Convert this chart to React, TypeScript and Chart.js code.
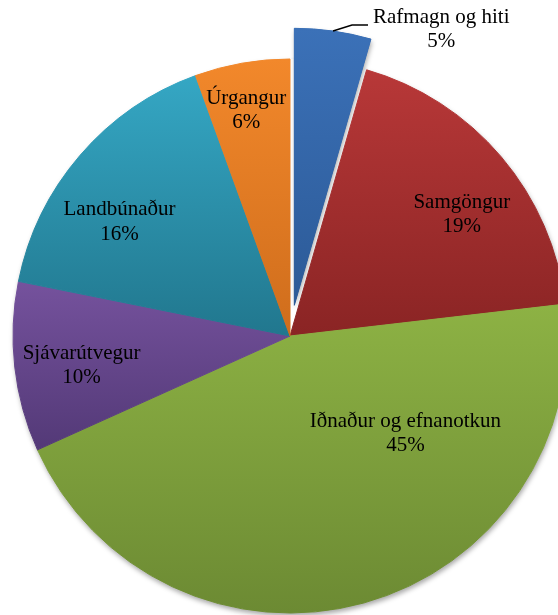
import React, { useEffect, useRef } from "react";
import { Chart, registerables } from "chart.js";

Chart.register(...registerables);

const categories = [
  "Rafmagn og hiti",
  "Samgöngur",
  "Iðnaður og efnanotkun",
  "Sjávarútvegur",
  "Landbúnaður",
  "Úrgangur",
];
const values = [4.46, 18.7, 45.1, 9.9, 16.3, 5.54];
const percentLabels = ["5%", "19%", "45%", "10%", "16%", "6%"];
const topColors = ["#3B71B8", "#B83838", "#8DB244", "#75529D", "#35A7C4", "#F2882B"];
const bottomColors = ["#2C5A97", "#8A2424", "#6C8A33", "#533977", "#21778E", "#CF6D1C"];
const explode = [31, 0, 0, 0, 0, 0];
const labelRadius = [1, 0.76, 0.545, 0.76, 0.74, 0.83];
const labelShiftDeg = [0, 5, -34.4, -1.6, -7, -1];

const R = 277;
const FONT = "21px 'Liberation Serif', 'Times New Roman', serif";
const LINE = 24.5;

function sliceGradient(c: any) {
  const i = c.dataIndex;
  if (i === undefined || i === null) return topColors[0];
  const chart = c.chart;
  const area = chart.chartArea;
  if (!area) return topColors[i];
  const total = values.reduce((a, b) => a + b, 0);
  let start = 0;
  for (let k = 0; k < i; k++) start += (values[k] / total) * 2 * Math.PI;
  const end = start + (values[i] / total) * 2 * Math.PI;
  const mid = (start + end) / 2;
  const cy = (area.top + area.bottom) / 2 - explode[i] * Math.cos(mid);
  const ys = [cy, cy - R * Math.cos(start), cy - R * Math.cos(end)];
  if (start <= 0.0001) ys.push(cy - R);
  if (start <= Math.PI && end >= Math.PI) ys.push(cy + R);
  const y0 = Math.min(...ys);
  const y1 = Math.max(...ys);
  const g = chart.ctx.createLinearGradient(0, y0, 0, y1);
  g.addColorStop(0, topColors[i]);
  g.addColorStop(1, bottomColors[i]);
  return g;
}

const explodePlugin = {
  id: "explodeSlices",
  afterUpdate(chart: any) {
    const meta = chart.getDatasetMeta(0);
    meta.data.forEach((el: any, i: number) => {
      const d = explode[i] || 0;
      if (!d) return;
      const mid = (el.startAngle + el.endAngle) / 2;
      el.x += Math.cos(mid) * d;
      el.y += Math.sin(mid) * d;
    });
  },
};

const shadowPlugin = {
  id: "pieShadow",
  beforeDatasetsDraw(chart: any) {
    const ctx = chart.ctx;
    const area = chart.chartArea;
    const cx = (area.left + area.right) / 2;
    const cy = (area.top + area.bottom) / 2;
    ctx.save();
    ctx.shadowColor = "rgba(0,0,0,0.35)";
    ctx.shadowBlur = 5;
    ctx.shadowOffsetX = 1;
    ctx.shadowOffsetY = 3;
    ctx.fillStyle = "#ffffff";
    ctx.beginPath();
    ctx.arc(cx, cy, R, 0, Math.PI * 2);
    ctx.fill();
    const meta = chart.getDatasetMeta(0);
    meta.data.forEach((el: any, i: number) => {
      if (!explode[i]) return;
      ctx.fillStyle = bottomColors[i];
      ctx.beginPath();
      ctx.moveTo(el.x, el.y);
      ctx.arc(el.x, el.y, el.outerRadius, el.startAngle, el.endAngle);
      ctx.closePath();
      ctx.fill();
    });
    ctx.restore();
  },
};

const labelPlugin = {
  id: "sliceLabels",
  afterDatasetsDraw(chart: any) {
    const ctx = chart.ctx;
    const meta = chart.getDatasetMeta(0);
    ctx.save();
    ctx.font = FONT;
    ctx.fillStyle = "#000000";
    ctx.textBaseline = "middle";
    meta.data.forEach((el: any, i: number) => {
      const mid = (el.startAngle + el.endAngle) / 2;
      const lines = [categories[i], percentLabels[i]];
      if (labelRadius[i] >= 1) {
        const p0x = el.x + Math.cos(mid) * el.outerRadius;
        const p0y = el.y + Math.sin(mid) * el.outerRadius;
        const p1x = p0x + 19;
        const p1y = p0y - 6;
        const p2x = p1x + 16;
        const p2y = p1y;
        ctx.strokeStyle = "#000000";
        ctx.lineWidth = 1.5;
        ctx.beginPath();
        ctx.moveTo(p0x, p0y);
        ctx.lineTo(p1x, p1y);
        ctx.lineTo(p2x, p2y);
        ctx.stroke();
        const w = Math.max(...lines.map((s) => ctx.measureText(s).width));
        const centerX = p2x + 5 + w / 2;
        ctx.textAlign = "center";
        ctx.fillText(lines[0], centerX, p2y - 8);
        ctx.fillText(lines[1], centerX, p2y - 8 + LINE);
      } else {
        const a = mid + (labelShiftDeg[i] * Math.PI) / 180;
        const px = el.x + Math.cos(a) * labelRadius[i] * el.outerRadius;
        const py = el.y + Math.sin(a) * labelRadius[i] * el.outerRadius;
        ctx.textAlign = "center";
        ctx.fillText(lines[0], px, py - LINE / 2);
        ctx.fillText(lines[1], px, py + LINE / 2);
      }
    });
    ctx.restore();
  },
};

export default function App() {
  const ref = useRef<HTMLCanvasElement | null>(null);
  useEffect(() => {
    if (!ref.current) return;
    const chart = new Chart(ref.current, {
      type: "pie",
      data: {
        labels: categories,
        datasets: [
          {
            data: values,
            backgroundColor: sliceGradient as any,
            borderColor: sliceGradient as any,
            borderWidth: 1,
            radius: R,
          } as any,
        ],
      },
      options: {
        responsive: false,
        animation: false,
        layout: { padding: 0 },
        events: [],
        plugins: {
          legend: { display: false },
          tooltip: { enabled: false },
        },
      },
      plugins: [explodePlugin, shadowPlugin, labelPlugin],
    });
    return () => chart.destroy();
  }, []);
  return (
    <div
      style={{
        position: "fixed",
        left: 0,
        top: 0,
        width: 558,
        height: 615,
        overflow: "hidden",
        background: "#ffffff",
      }}
    >
      <canvas ref={ref} width={580} height={672} style={{ display: "block", width: 580, height: 672 }} />
    </div>
  );
}
